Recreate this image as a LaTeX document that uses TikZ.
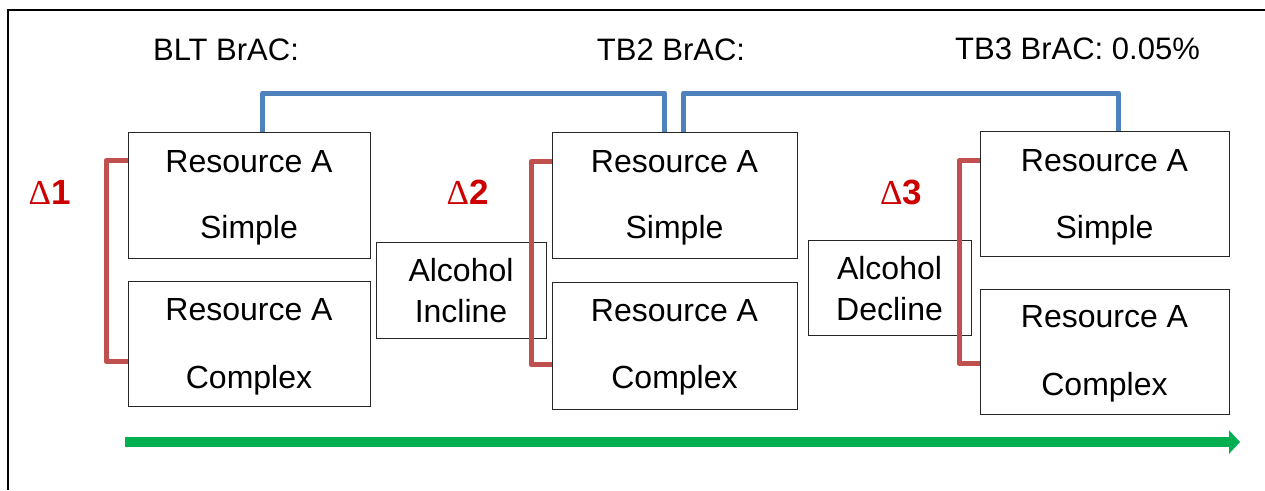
\documentclass[tikz,border=0pt]{standalone}
\usepackage{fontspec}
\setmainfont{Liberation Sans}
\newfontfamily\greekserif{Liberation Serif}
\usetikzlibrary{arrows.meta}
\definecolor{linkblue}{HTML}{4F81BD}
\definecolor{brackred}{HTML}{C0504D}
\definecolor{deltared}{HTML}{CC0000}
\definecolor{flowgreen}{HTML}{00B050}
\begin{document}
\begin{tikzpicture}[x=1pt,y=-1pt,
  box/.style={draw=black!85, line width=1.4pt, anchor=north west, inner sep=0pt},
  txt/.style={font=\fontsize{32}{38}\selectfont, inner sep=0pt, anchor=base},
  head/.style={font=\fontsize{31}{37}\selectfont, inner sep=0pt, anchor=base},
  delta/.style={font=\fontsize{35}{40}\selectfont\bfseries, text=deltared, inner sep=0pt, anchor=base},
  blueline/.style={draw=linkblue, line width=5pt, line join=round},
  redline/.style={draw=brackred, line width=5pt, line join=round},
]
\useasboundingbox (0,0) rectangle (1265,490);
% outer frame
\draw[line width=2pt] (8,490) -- (8,10) -- (1265,10);

% boxes
\node[box, minimum width=242pt, minimum height=126pt] (s1) at (128,132) {};
\node[box, minimum width=242pt, minimum height=125pt] (c1) at (128,281) {};
\node[box, minimum width=170pt, minimum height=96pt] (a1) at (376,242) {};
\node[box, minimum width=245pt, minimum height=126pt] (s2) at (552,132) {};
\node[box, minimum width=245pt, minimum height=127pt] (c2) at (552,282) {};
\node[box, minimum width=163pt, minimum height=95pt] (a2) at (808,240) {};
\node[box, minimum width=249pt, minimum height=125pt] (s3) at (980,131) {};
\node[box, minimum width=249pt, minimum height=125pt] (c3) at (980,289) {};

% box texts
\node[txt] (s1t) at (249,172) {Resource A};
\node[txt] (s1b) at (249,238) {Simple};
\node[txt] (c1t) at (249,320) {Resource A};
\node[txt] (c1b) at (249,388) {Complex};
\node[txt] (s2t) at (674.5,172) {Resource A};
\node[txt] (s2b) at (674.5,238) {Simple};
\node[txt] (c2t) at (674.5,321) {Resource A};
\node[txt] (c2b) at (674.5,388) {Complex};
\node[txt] (s3t) at (1104.5,171) {Resource A};
\node[txt] (s3b) at (1104.5,238) {Simple};
\node[txt] (c3t) at (1104.5,327) {Resource A};
\node[txt] (c3b) at (1104.5,395) {Complex};
\node[txt] (a1t) at (461,281) {Alcohol};
\node[txt] (a1b) at (461,322) {Incline};
\node[txt] (a2t) at (889.5,279) {Alcohol};
\node[txt] (a2b) at (889.5,320) {Decline};

% headings
\node[head] (h1) at (226,60) {BLT BrAC:};
\node[head] (h2) at (671,60) {TB2 BrAC:};
\node[head] (h3) at (1077.5,59) {TB3 BrAC: 0.05\%};

% deltas
\node[delta] (d1) at (49.5,204) {{\greekserif\mdseries Δ}1};
\node[delta] (d2) at (467.5,204) {{\greekserif\mdseries Δ}2};
\node[delta] (d3) at (901,204) {{\greekserif\mdseries Δ}3};

% blue links between the simple boxes
\coordinate (j1) at (460,93);
\coordinate (j2) at (900,93);
\draw[blueline] ([xshift=13pt]s1.north) |- (j1) -| ([xshift=-10.5pt]s2.north);
\draw[blueline] ([xshift=8.5pt]s2.north) |- (j2) -| ([xshift=13.5pt]s3.north);

% red brackets pairing simple and complex
\coordinate (r1) at (106,260);
\coordinate (r2) at (531,260);
\coordinate (r3) at (959,260);
\draw[redline] ([yshift=35pt]s1.west) -| (r1) |- ([yshift=-17.5pt]c1.west);
\draw[redline] ([yshift=34pt]s2.west) -| (r2) |- ([yshift=-18.5pt]c2.west);
\draw[redline] ([yshift=33.5pt]s3.west) -| (r3) |- ([yshift=-11.5pt]c3.west);

% time arrow
\coordinate (g0) at (125,442);
\coordinate (g1) at (1240,442);
\draw[flowgreen, line width=10pt, -{Triangle[length=11pt,width=23pt]}] (g0) -- (g1);
\end{tikzpicture}
\end{document}
